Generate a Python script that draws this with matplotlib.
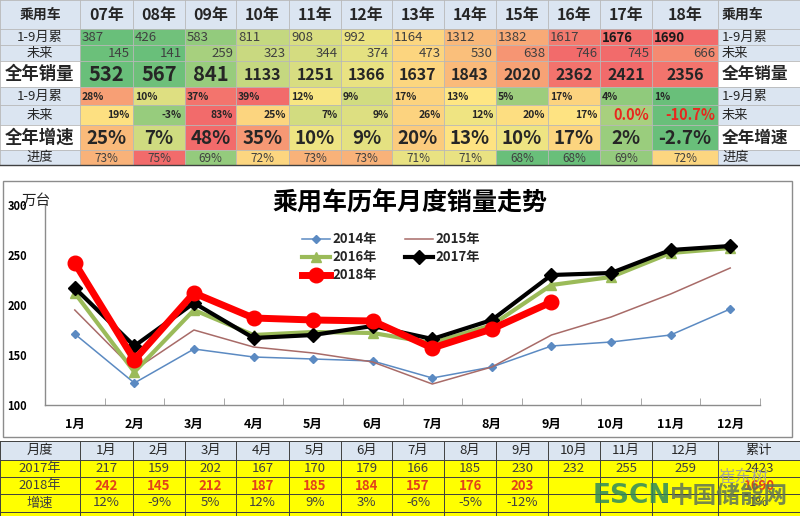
import numpy as np
import matplotlib
matplotlib.use("Agg")
import matplotlib.pyplot as plt
from matplotlib.patches import Rectangle
from matplotlib.lines import Line2D

plt.rcParams['font.family'] = ['Noto Sans CJK SC', 'DejaVu Sans']

# ---------------- data: top summary table ----------------
years_top = ['07年', '08年', '09年', '10年', '11年', '12年', '13年', '14年', '15年', '16年', '17年', '18年']
cum9 = [387, 426, 583, 811, 908, 992, 1164, 1312, 1382, 1617, 1676, 1690]
future = [145, 141, 259, 323, 344, 374, 473, 530, 638, 746, 745, 666]
full_year = [532, 567, 841, 1133, 1251, 1366, 1637, 1843, 2020, 2362, 2421, 2356]
cum9_growth = ['28%', '10%', '37%', '39%', '12%', '9%', '17%', '13%', '5%', '17%', '4%', '1%']
future_growth = ['19%', '-3%', '83%', '25%', '7%', '9%', '26%', '12%', '20%', '17%', '0.0%', '-10.7%']
full_growth = ['25%', '7%', '48%', '35%', '10%', '9%', '20%', '13%', '10%', '17%', '2%', '-2.7%']
progress = ['73%', '75%', '69%', '72%', '73%', '73%', '71%', '71%', '68%', '68%', '69%', '72%']
row_labels = ['1-9月累', '未来', '全年销量', '1-9月累', '未来', '全年增速', '进度']

# ---------------- data: monthly chart ----------------
months = ['1月', '2月', '3月', '4月', '5月', '6月', '7月', '8月', '9月', '10月', '11月', '12月']
s2014 = [171, 122, 156, 148, 146, 144, 127, 138, 159, 163, 170, 196]
s2015 = [195, 135, 175, 158, 152, 143, 121, 138, 170, 188, 211, 237]
s2016 = [212, 133, 195, 170, 173, 172, 162, 180, 220, 228, 252, 257]
s2017 = [217, 159, 202, 167, 170, 179, 166, 185, 230, 232, 255, 259]
s2018 = [242, 145, 212, 187, 185, 184, 157, 176, 203]

# ---------------- data: bottom table ----------------
growth_month = ['12%', '-9%', '5%', '12%', '9%', '3%', '-6%', '-5%', '-12%', '', '', '']
total_2017 = 2423
total_2018 = 1690
total_growth = '1%'

# ---------------- figure ----------------
fig = plt.figure(figsize=(8.0, 5.16), dpi=100)
bg = fig.add_axes([0, 0, 1, 1])
bg.set_xlim(0, 800)
bg.set_ylim(516, 0)
bg.axis('off')

GREEN = np.array([0x69, 0xbf, 0x7a]) / 255
YELLOW = np.array([0xfe, 0xe8, 0x83]) / 255
RED = np.array([0xf2, 0x6b, 0x6b]) / 255


def pval(s):
    return float(s.strip('%'))


def scale3(vals):
    v = np.array(vals, float)
    lo, hi, mid = v.min(), v.max(), np.percentile(v, 50)
    out = []
    for x in v:
        if x <= mid:
            t = 0 if mid == lo else (x - lo) / (mid - lo)
            c = GREEN + (YELLOW - GREEN) * t
        else:
            t = (x - mid) / (hi - mid)
            c = YELLOW + (RED - YELLOW) * t
        out.append(tuple(c))
    return out


cols = [0, 80, 133, 185, 236, 289, 341, 392, 444, 496, 548, 600, 652, 718, 800]
rows = [0, 29, 45, 61, 87, 105, 125, 150, 165]
LBLUE = '#dbe5f1'
TXT = '#262626'

# header row
for j in range(len(cols) - 1):
    bg.add_patch(Rectangle((cols[j], 0), cols[j + 1] - cols[j], 29, facecolor=LBLUE, edgecolor='none'))
bg.text(40, 15, '乘用车', ha='center', va='center', fontsize=10, fontweight='bold', color=TXT)
bg.text(722, 15, '乘用车', ha='left', va='center', fontsize=10, fontweight='bold', color=TXT)
for j, y in enumerate(years_top):
    bg.text((cols[j + 1] + cols[j + 2]) / 2, 15, y, ha='center', va='center', fontsize=11.5,
            fontweight='bold', color=TXT)

row_vals = [cum9, future, full_year,
            [pval(s) for s in cum9_growth], [pval(s) for s in future_growth],
            [pval(s) for s in full_growth], [pval(s) for s in progress]]
row_text = [[str(v) for v in cum9], [str(v) for v in future], [str(v) for v in full_year],
            cum9_growth, future_growth, full_growth, progress]
aligns = ['left', 'right', 'center', 'left', 'right', 'center', 'center']

for r in range(7):
    y0, y1 = rows[r + 1], rows[r + 2]
    yc = (y0 + y1) / 2
    colors = scale3(row_vals[r])
    big = r in (2, 5)
    lab_bg = 'white' if big else LBLUE
    bg.add_patch(Rectangle((0, y0), 80, y1 - y0, facecolor=lab_bg, edgecolor='none'))
    bg.add_patch(Rectangle((718, y0), 82, y1 - y0, facecolor=lab_bg, edgecolor='none'))
    bg.text(40, yc, row_labels[r], ha='center', va='center',
            fontsize=12.5 if big else 9.5, fontweight='bold' if big else 'normal', color=TXT)
    bg.text(722, yc, row_labels[r], ha='left', va='center',
            fontsize=12 if big else 9.5, fontweight='bold' if big else 'normal', color=TXT)
    for j in range(12):
        x0, x1 = cols[j + 1], cols[j + 2]
        bg.add_patch(Rectangle((x0, y0), x1 - x0, y1 - y0, facecolor=colors[j], edgecolor='none'))
        s = row_text[r][j]
        col = TXT
        fw = 'normal'
        fs = 9
        if r == 0:
            fw = 'bold' if j >= 10 else 'normal'
            fs = 9.5
            col = '#1a1a1a' if j >= 10 else '#404040'
        elif r == 1:
            col = '#404040'
            fs = 9.5
        elif r == 2:
            fw = 'bold'
            fs = 14.5 if j < 3 else 11.5
        elif r in (3, 4):
            fw = 'bold'
            fs = 7.5
            if r == 4 and j >= 10:
                fs = 10.5
                col = '#e8281e'
        elif r == 5:
            fw = 'bold'
            fs = 13.5
        elif r == 6:
            col = '#404040'
            fs = 8.5
        a = aligns[r]
        if a == 'left':
            tx = x0 + 2
        elif a == 'right':
            tx = x1 - 3
        else:
            tx = (x0 + x1) / 2
        bg.text(tx, yc + 0.5, s, ha=a, va='center', fontsize=fs, fontweight=fw, color=col)

# top table grid
for x in cols:
    bg.plot([x, x], [0, 165], color='#b8b8b8', lw=0.6)
for y in rows:
    bg.plot([0, 800], [y, y], color='#b8b8b8', lw=0.6)
bg.plot([0, 800], [165, 165], color='#404040', lw=1.0)

# ---------------- chart box ----------------
bg.add_patch(Rectangle((3, 181), 789, 256, facecolor='white', edgecolor='#8c8c8c', lw=1.0))
bg.text(410, 203, '乘用车历年月度销量走势', ha='center', va='center', fontsize=18,
        fontweight='bold', color='black')
bg.text(36, 201, '万台', ha='center', va='center', fontsize=10.5, color='#222222', zorder=5)

ax = fig.add_axes([45 / 800, (516 - 405) / 516, 715 / 800, 200 / 516])
ax.set_facecolor('none')
x = np.arange(len(months))
ax.plot(x, s2014, color='#5b8ac2', lw=1.1, marker='D', ms=4.5, zorder=2)
ax.plot(x, s2015, color='#a86b68', lw=1.1, zorder=2)
ax.plot(x, s2016, color='#9bbb59', lw=3, marker='^', ms=7, zorder=3)
ax.plot(x, s2017, color='black', lw=3, marker='D', ms=7, zorder=4)
ax.plot(np.arange(len(s2018)), s2018, color='#ff0000', lw=5, marker='o', ms=10.5, zorder=5)

ax.set_xlim(-0.5, 11.5)
ax.set_ylim(100, 300)
ax.set_yticks([100, 150, 200, 250, 300])
ax.set_xticks(x)
ax.set_xticklabels(months, fontsize=9, fontweight='bold')
for lab in ax.get_yticklabels():
    lab.set_fontweight('bold')
    lab.set_fontsize(8)
ax.tick_params(axis='y', length=0, pad=13)
ax.tick_params(axis='x', which='major', length=0, pad=9)
ax.set_xticks(np.arange(-0.5, 12, 1), minor=True)
ax.tick_params(axis='x', which='minor', direction='in', length=5, color='#9a9a9a')
for sp in ['top', 'right']:
    ax.spines[sp].set_visible(False)
for sp in ['left', 'bottom']:
    ax.spines[sp].set_color('#8c8c8c')
    ax.spines[sp].set_linewidth(1.0)


# legend (manual, pixel positions)
def fx(px):
    return (px - 45) / 715


def fy(py):
    return (405 - py) / 200


legend_items = [
    ('2014年', 302, 239, dict(color='#5b8ac2', lw=1.1, marker='D', ms=4.5)),
    ('2016年', 302, 257, dict(color='#9bbb59', lw=3, marker='^', ms=7)),
    ('2018年', 302, 275, dict(color='#ff0000', lw=5, marker='o', ms=10.5)),
    ('2015年', 405, 239, dict(color='#a86b68', lw=1.1)),
    ('2017年', 405, 257, dict(color='black', lw=3, marker='D', ms=7)),
]
for lab, px, py, st in legend_items:
    ln = Line2D([fx(px), fx(px + 14), fx(px + 28)], [fy(py)] * 3, transform=ax.transAxes,
                clip_on=False, **st)
    if 'marker' in st:
        ln.set_markevery([1])
    ax.add_line(ln)
    ax.text(fx(px + 30), fy(py), lab, transform=ax.transAxes, ha='left', va='center',
            fontsize=9.5, fontweight='bold', color='#262626')

# ---------------- bottom table ----------------
brow = [441, 460, 477, 494, 512]
YEL = '#ffff00'
bcols = cols
for j in range(len(bcols) - 1):
    bg.add_patch(Rectangle((bcols[j], brow[0]), bcols[j + 1] - bcols[j], brow[1] - brow[0],
                           facecolor=LBLUE, edgecolor='none'))
bg.add_patch(Rectangle((0, brow[1]), 800, 516 - brow[1], facecolor=YEL, edgecolor='none'))

header = ['月度'] + months + ['累计']
r2017 = [str(v) for v in s2017] + [str(total_2017)]
r2018 = [str(v) for v in s2018] + ['', '', ''] + [str(total_2018)]
rgrow = growth_month + [total_growth]
labels_b = ['2017年', '2018年', '增速']
for j in range(len(bcols) - 1):
    xc = (bcols[j] + bcols[j + 1]) / 2
    bg.text(xc, (brow[0] + brow[1]) / 2, header[j], ha='center', va='center', fontsize=9.5, color=TXT)
for i, (lab, vals) in enumerate(zip(labels_b, [r2017, r2018, rgrow])):
    yc = (brow[i + 1] + brow[i + 2]) / 2
    bg.text(40, yc, lab, ha='center', va='center', fontsize=9.5, color='#404040')
    for j, s in enumerate(vals):
        xc = (bcols[j + 1] + bcols[j + 2]) / 2
        if i == 1:
            bg.text(xc, yc, s, ha='center', va='center', fontsize=9.5, fontweight='bold', color='#e2421b')
        else:
            bg.text(xc, yc, s, ha='center', va='center', fontsize=9.5, color='#404040')
for xx in bcols:
    bg.plot([xx, xx], [brow[0], 516], color='#404040', lw=0.7)
for yy in brow:
    bg.plot([0, 800], [yy, yy], color='#404040', lw=0.7)

# ---------------- watermark ----------------
fig.text(593 / 800, 1 - 496 / 516, 'ESCN', ha='left', va='center', fontsize=19, fontweight='bold',
         color='#2f8a5e', alpha=0.85, family='DejaVu Sans', zorder=10)
fig.text(670 / 800, 1 - 496 / 516, '中国储能网', ha='left', va='center', fontsize=17, fontweight='bold',
         color='#5f7458', alpha=0.85, zorder=10)
fig.text(718 / 800, 1 - 477 / 516, '崔东树', ha='left', va='center', fontsize=12,
         color='#a0a0a0', alpha=0.9, zorder=10)

fig.savefig('out.png', dpi=100)
